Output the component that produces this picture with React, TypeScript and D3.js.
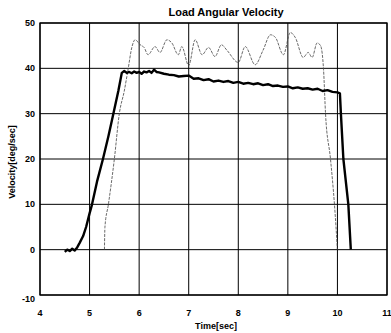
import React from 'react'
import * as d3 from 'd3'

const xTicks = [4, 5, 6, 7, 8, 9, 10, 11]
const yTicks = [-10, 0, 10, 20, 30, 40, 50]

// thick trace (load response)
const loadT = [4.5, 4.55, 4.6, 4.65, 4.7, 4.75, 4.8, 4.87, 4.93, 5.0, 5.05, 5.15, 5.27, 5.38, 5.48, 5.58, 5.65, 5.7, 5.75, 5.8, 5.85, 5.9, 5.95, 6.0, 6.05, 6.1, 6.15, 6.2, 6.25, 6.3, 6.35, 6.4, 6.5, 6.6, 6.7, 6.8, 6.9, 7.0, 7.1, 7.2, 7.3, 7.4, 7.5, 7.6, 7.7, 7.8, 7.9, 8.0, 8.1, 8.2, 8.3, 8.4, 8.5, 8.6, 8.7, 8.8, 8.9, 9.0, 9.1, 9.2, 9.3, 9.4, 9.5, 9.6, 9.7, 9.8, 9.9, 10.0, 10.05, 10.07, 10.12, 10.22, 10.27]
const loadV = [-0.5, 0, -0.3, 0.2, -0.2, 0.5, 1.5, 3, 5, 8, 10, 15, 20, 25, 30, 35, 39, 39.4, 39.0, 39.2, 38.9, 39.3, 39.0, 39.2, 38.8, 39.3, 39.1, 39.4, 39.0, 39.7, 39.2, 39.1, 38.8, 38.6, 38.5, 38.2, 38.3, 38.4, 37.7, 37.8, 37.4, 37.6, 37.1, 37.3, 37.0, 37.2, 36.8, 37.0, 36.6, 36.8, 36.5, 36.7, 36.3, 36.5, 36.1, 36.2, 35.9, 36.0, 35.6, 35.8, 35.5, 35.6, 35.3, 35.5, 35.0, 35.2, 34.8, 34.7, 34.5, 30, 20, 10, 0]

// thin dashed trace (motor / command)
const cmdT = [5.3, 5.31, 5.38, 5.5, 5.6, 5.7, 5.78, 5.85, 5.92, 6.02, 6.1, 6.18, 6.32, 6.42, 6.56, 6.66, 6.79, 6.86, 7.0, 7.13, 7.27, 7.4, 7.53, 7.66, 7.77, 8.0, 8.14, 8.34, 8.5, 8.65, 8.75, 8.91, 9.05, 9.15, 9.31, 9.41, 9.49, 9.59, 9.66, 9.72, 9.76, 9.86, 9.94, 10.0]
const cmdV = [0, 5, 10, 20, 30, 35, 40, 44.5, 46.3, 45.2, 44.6, 43, 44.8, 43.5, 46.3, 45.6, 43, 44.8, 40.6, 46.3, 43, 44.6, 42.6, 45.2, 44, 41.3, 44.8, 40.8, 44, 47.4, 46.8, 43, 47.9, 46.8, 42.4, 43.5, 42.4, 45.6, 45, 39.7, 30, 20, 10, 0]

const W = 391
const H = 333
const left = 40
const right = 387
const top = 23
const bottom = 295

export default function App() {
  const x = d3.scaleLinear().domain([4, 11]).range([left, right])
  const y = d3.scaleLinear().domain([-10, 50]).range([bottom, top])

  const loadData = loadT.map((t, i) => [t, loadV[i]] as [number, number])
  const cmdData = cmdT.map((t, i) => [t, cmdV[i]] as [number, number])

  const line = d3.line<[number, number]>()
    .x(d => x(d[0]))
    .y(d => y(d[1]))
  const smooth = d3.line<[number, number]>()
    .x(d => x(d[0]))
    .y(d => y(d[1]))
    .curve(d3.curveMonotoneX)

  const font = 'Liberation Sans, Arial, sans-serif'

  return (
    <svg width={W} height={H} style={{ position: 'absolute', left: 0, top: 0, background: '#fff' }}>
      {/* grid */}
      {xTicks.map(t => (
        <line key={'gx' + t} x1={x(t)} x2={x(t)} y1={top} y2={bottom} stroke="#000" strokeWidth={1} />
      ))}
      {yTicks.map(t => (
        <line key={'gy' + t} x1={left} x2={right} y1={y(t)} y2={y(t)} stroke="#000" strokeWidth={1} />
      ))}
      <rect x={left} y={top} width={right - left} height={bottom - top} fill="none" stroke="#000" strokeWidth={1.3} />

      {/* traces */}
      <path d={smooth(cmdData) || ''} fill="none" stroke="#444" strokeWidth={0.8} strokeDasharray="3,1.2" />
      <path d={line(loadData) || ''} fill="none" stroke="#000" strokeWidth={2.4} strokeLinejoin="round" />

      {/* tick labels */}
      {xTicks.map(t => (
        <text key={'tx' + t} x={x(t)} y={316} textAnchor="middle" fontFamily={font} fontWeight="bold" fontSize={9}>{t}</text>
      ))}
      {yTicks.map(t => (
        <text key={'ty' + t} x={35} y={y(t) + (t === -10 ? 7 : 3)} textAnchor="end" fontFamily={font} fontWeight="bold" fontSize={9}>{t}</text>
      ))}

      <text x={226} y={16} textAnchor="middle" fontFamily={font} fontWeight="bold" fontSize={11}>Load Angular Velocity</text>
      <text x={216} y={329} textAnchor="middle" fontFamily={font} fontWeight="bold" fontSize={9}>Time[sec]</text>
      <text transform={`translate(15,${162}) rotate(-90)`} textAnchor="middle" fontFamily={font} fontWeight="bold" fontSize={9}>Velocity[deg/sec]</text>
    </svg>
  )
}
